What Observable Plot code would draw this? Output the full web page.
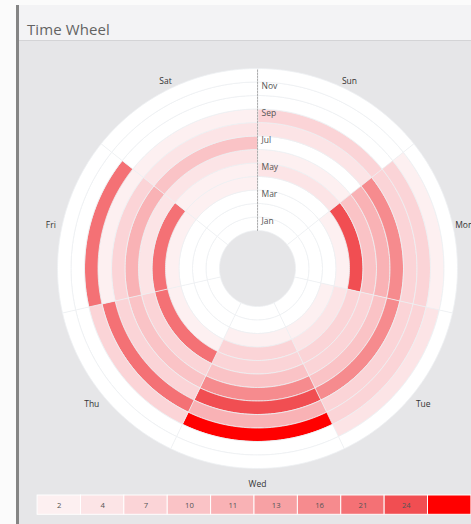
<!DOCTYPE html>
<html>
<head>
<meta charset="utf-8">
<script src="https://cdn.jsdelivr.net/npm/d3@7"></script>
<script src="https://cdn.jsdelivr.net/npm/@observablehq/plot@0.6"></script>
<style>
  html, body { margin: 0; padding: 0; width: 471px; height: 524px; overflow: hidden; background: #fbfbfb; font-family: "Open Sans", sans-serif; }
  #leftborder { position: absolute; left: 16px; top: 5px; width: 3px; height: 519px; background: #858585; }
  #header { position: absolute; left: 19px; top: 5px; width: 452px; height: 35px; background: #f3f3f5; border-bottom: 1px solid #d4d4d6; }
  #title { position: absolute; left: 27px; top: 20px; font-size: 15px; font-weight: 400; color: #636363; line-height: 18px; letter-spacing: 0.1px; }
  #body { position: absolute; left: 19px; top: 41px; width: 452px; height: 483px; background: #e6e6e8; }
  #chart { position: absolute; left: 0; top: 0; }
  #legend { position: absolute; left: 37px; top: 495px; }
  svg { overflow: visible; }
</style>
</head>
<body>
<div id="leftborder"></div>
<div id="header"></div>
<div id="body"></div>
<div id="title">Time Wheel</div>
<div id="chart"></div>
<div id="legend"></div>
<script>
// ---------- data ----------
const days = ["Sun", "Mon", "Tue", "Wed", "Thu", "Fri", "Sat"];
const months = ["Jan", "Feb", "Mar", "Apr", "May", "Jun", "Jul", "Aug", "Sep", "Oct", "Nov", "Dec"];
const monthTicks = ["Jan", "Mar", "May", "Jul", "Sep", "Nov"];

// values per day, Jan..Dec
const sunValues = [1, 1, 1, 1, 5, 3, 1, 5, 8, 1, 1, 1];
const monValues = [1, 1, 1, 3, 25, 10, 12, 18, 7, 7, 3, 1];
const tueValues = [1, 1, 3, 5, 7, 8, 10, 18, 7, 7, 5, 1];
const wedValues = [1, 1, 3, 7, 8, 10, 18, 26, 12, 29, 1, 1];
const thuValues = [1, 1, 1, 3, 22, 8, 10, 7, 22, 7, 1, 1];
const friValues = [1, 1, 1, 3, 22, 5, 12, 7, 3, 23, 1, 1];
const satValues = [1, 1, 1, 3, 3, 5, 10, 5, 3, 1, 1, 1];

const legendThresholds = [2, 4, 7, 10, 11, 13, 16, 21, 24, 27];
const legendLabels = ["2", "4", "7", "10", "11", "13", "16", "21", "24", ""];

// ---------- styles / geometry ----------
const legendColors = ["#fdf0f1", "#fce4e6", "#fbd4d7", "#fac3c6", "#f9b2b5", "#f7a1a4", "#f68b8e", "#f47175", "#f14e52", "#ff0000"];
const W = 471, H = 524;
const CX = 257, CY = 268, R_OUT = 200, R_IN = 38, R_LABEL = 212;
const DEG = 0.1; // degrees of arc per pixel

const byDay = {Sun: sunValues, Mon: monValues, Tue: tueValues, Wed: wedValues, Thu: thuValues, Fri: friValues, Sat: satValues};

const angle = d3.scaleBand(days, [0, 360]);        // clockwise from top
const radius = d3.scaleBand(months, [R_IN, R_OUT]);
const lon = t => 180 - t;
const lat = r => 90 - r * DEG;

function cellFeature(day, month, value) {
  const t1 = angle(day), t2 = t1 + angle.bandwidth();
  const r1 = radius(month), r2 = r1 + radius.bandwidth();
  const ring = [];
  const n = 40;
  for (let i = 0; i <= n; i++) { const t = t2 - (t2 - t1) * i / n; ring.push([lon(t), lat(r1)]); }
  for (let i = 0; i <= n; i++) { const t = t1 + (t2 - t1) * i / n; ring.push([lon(t), lat(r2)]); }
  ring.push(ring[0]);
  let f = {type: "Feature", properties: {day, month, value}, geometry: {type: "Polygon", coordinates: [ring]}};
  if (d3.geoArea(f) > 2 * Math.PI) f.geometry.coordinates = [ring.slice().reverse()];
  return f;
}

const cells = [];
for (const d of days) months.forEach((m, i) => cells.push(cellFeature(d, m, byDay[d][i])));

const colorOpts = {type: "threshold", domain: legendThresholds, range: ["#ffffff", ...legendColors]};

const axisLine = [{lon: 180, lat: lat(R_IN)}, {lon: 180, lat: lat(R_OUT)}];

const chart = Plot.plot({
  width: W, height: H,
  marginLeft: CX - R_OUT, marginRight: W - CX - R_OUT,
  marginTop: CY - R_OUT, marginBottom: H - CY - R_OUT,
  style: {background: "transparent", fontFamily: "Open Sans, sans-serif"},
  projection: {
    type: "azimuthal-equidistant",
    rotate: [0, -90],
    clip: false,
    domain: d3.geoCircle().center([0, 90]).radius(R_OUT * DEG)()
  },
  color: colorOpts,
  marks: [
    Plot.geo(cells, {fill: d => d.properties.value, stroke: "#eef0f3", strokeWidth: 0.8}),
    Plot.line(axisLine, {x: "lon", y: "lat", stroke: "#9a9a9a", strokeWidth: 0.8, strokeDasharray: "1.5,1.5"}),
    Plot.text(monthTicks, {x: 180, y: m => lat(radius(m) + radius.bandwidth() / 2), text: d => d, textAnchor: "start", dx: 4, dy: -2, fontSize: 8.5, fill: "#555"}),
    Plot.text(days, {x: d => lon(angle(d) + angle.bandwidth() / 2), y: lat(R_LABEL), text: d => d, dy: 4, fontSize: 8.5, fill: "#333"})
  ]
});
document.getElementById("chart").append(chart);

const legend = Plot.plot({
  width: 450, height: 20, margin: 0,
  style: {background: "transparent", fontFamily: "Open Sans, sans-serif"},
  x: {type: "band", domain: d3.range(legendThresholds.length), padding: 0, axis: null},
  color: colorOpts,
  marks: [
    Plot.cell(legendThresholds, {x: (d, i) => i, fill: d => d, stroke: "#ffffff", strokeWidth: 1}),
    Plot.text(legendThresholds, {x: (d, i) => i, frameAnchor: "middle", text: (d, i) => legendLabels[i], fontSize: 8, fill: "#555"})
  ]
});
document.getElementById("legend").append(legend);
</script>
</body>
</html>
